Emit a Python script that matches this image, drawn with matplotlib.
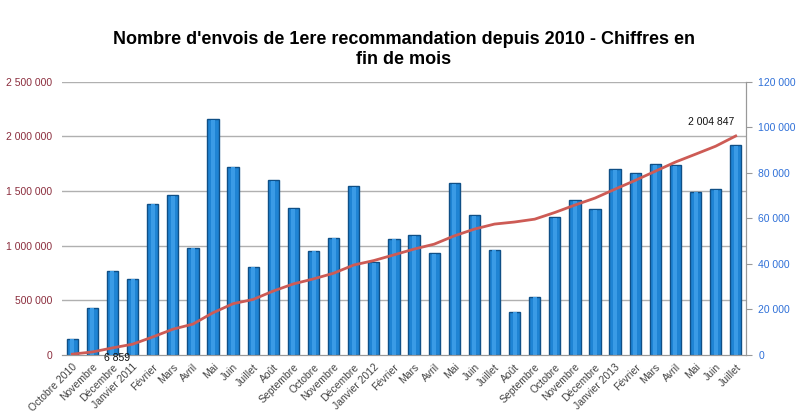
import matplotlib
matplotlib.use("Agg")
import matplotlib.pyplot as plt

plt.rcParams['font.family'] = ['Liberation Sans', 'DejaVu Sans']

# monthly counts (right axis) and cumulative total (left axis)
months = ["Octobre 2010", "Novembre", "Décembre", "Janvier 2011", "Février", "Mars", "Avril",
          "Mai", "Juin", "Juillet", "Août", "Septembre", "Octobre", "Novembre", "Décembre",
          "Janvier 2012", "Février", "Mars", "Avril", "Mai", "Juin", "Juillet", "Août",
          "Septembre", "Octobre", "Novembre", "Décembre", "Janvier 2013", "Février", "Mars",
          "Avril", "Mai", "Juin", "Juillet"]
monthly = [6859, 20500, 36900, 33400, 66500, 70400, 47100, 103700, 82800, 38800, 76800,
           64500, 45700, 51600, 74300, 40700, 51100, 52600, 44700, 75700, 61500, 46200,
           18800, 25500, 60500, 68100, 64000, 81600, 79900, 83800, 83600, 71800, 72800, 92200]
cumul = [6859, 27000, 64000, 98000, 164000, 235000, 282000, 386000, 469000, 508000, 585000,
         650000, 696000, 748000, 823000, 864000, 916000, 969000, 1014000, 1090000, 1152000,
         1198000, 1217000, 1243000, 1304000, 1372000, 1436000, 1518000, 1598000, 1682000,
         1766000, 1838000, 1911000, 2004847]
left_ticks = [0, 500000, 1000000, 1500000, 2000000, 2500000]
right_ticks = [0, 20000, 40000, 60000, 80000, 100000, 120000]

def fmt(v):
    return f"{v:,}".replace(",", " ")

fig = plt.figure(figsize=(8.08, 4.2), dpi=100)
ax = fig.add_axes([0.077, 0.155, 0.846, 0.65])
ax2 = ax.twinx()

x = list(range(len(months)))
left_max = left_ticks[-1]
right_max = right_ticks[-1]

# bars on primary axes (drawn under the line), ticks shown on the right
for v in left_ticks[1:]:
    ax.axhline(v * right_max / left_max, color="#b0b0b0", lw=1, zorder=0)
ax.bar(x, monthly, width=0.56, color="#1f84d4", edgecolor="#0f4f86", linewidth=1.0, zorder=2)
# lighter centre stripe for the shaded-cylinder look
ax.bar(x, [m * 0.995 for m in monthly], width=0.2, color="#3a9be6", linewidth=0, zorder=2.5)
ax.set_ylim(0, right_max)
ax.set_xlim(-0.5, len(months) - 0.5)
ax.yaxis.tick_right()
ax.set_yticks(right_ticks)
ax.set_yticklabels([fmt(v) for v in right_ticks], color="#2f70d8", fontsize=7.5)
ax.tick_params(axis="y", length=4, color="#999999", pad=5)
ax.set_xticks(x)
ax.set_xticklabels(months, rotation=45, ha="right", rotation_mode="anchor",
                   fontsize=7.5, color="#444444")
ax.tick_params(axis="x", length=0, pad=5)

ax2.plot(x, cumul, color="#cd5b55", lw=2, zorder=3)
ax2.set_ylim(0, left_max)
ax2.yaxis.tick_left()
ax2.set_yticks(left_ticks)
ax2.set_yticklabels([fmt(v) for v in left_ticks], color="#8b2d3d", fontsize=7.5)
ax2.tick_params(axis="y", length=0, pad=7)

for a in (ax, ax2):
    a.spines["top"].set_visible(False)
    a.spines["left"].set_visible(False)
    a.spines["right"].set_color("#999999")
    a.spines["bottom"].set_color("#999999")

ax2.annotate(fmt(cumul[0]), (x[0], cumul[0]), xytext=(45, 1), textcoords="offset pixels",
             ha="center", va="top", fontsize=7.5, color="#111111")
ax2.annotate(fmt(cumul[-1]), (x[-1], cumul[-1]), xytext=(-25, 9), textcoords="offset pixels",
             ha="center", va="bottom", fontsize=7.5, color="#111111")

fig.text(0.5, 0.883, "Nombre d'envois de 1ere recommandation depuis 2010 - Chiffres en\nfin de mois",
         ha="center", va="center", fontsize=13, fontweight="bold", linespacing=1.25)

fig.savefig("out.png", dpi=100)
